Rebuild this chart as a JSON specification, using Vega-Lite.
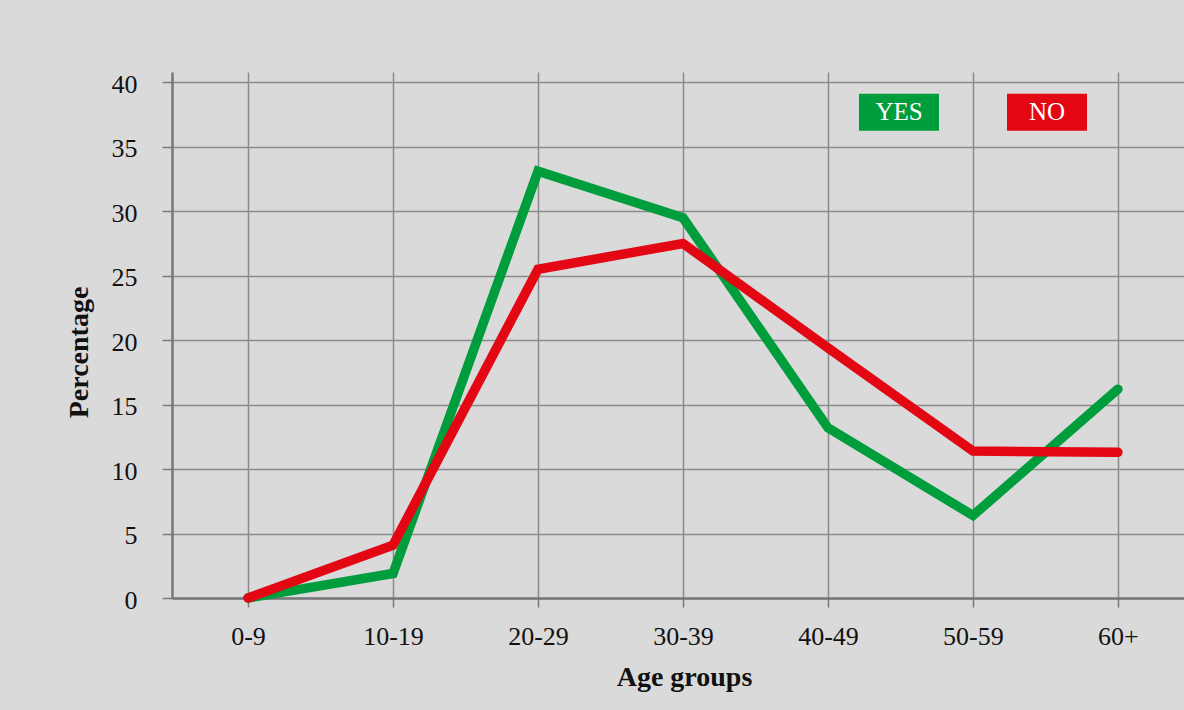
{
  "$schema": "https://vega.github.io/schema/vega-lite/v6.json",
  "width": 1012,
  "height": 526,
  "autosize": {"type": "none"},
  "padding": {"left": 172, "top": 72, "right": 0, "bottom": 112},
  "background": "#dadada",
  "config": {"view": {"stroke": null}, "font": "Liberation Serif"},
  "data": {
    "values": [
      {"age": "0-9", "answer": "YES", "pct": 0},
      {"age": "10-19", "answer": "YES", "pct": 1.9},
      {"age": "20-29", "answer": "YES", "pct": 33.1},
      {"age": "30-39", "answer": "YES", "pct": 29.5},
      {"age": "40-49", "answer": "YES", "pct": 13.2},
      {"age": "50-59", "answer": "YES", "pct": 6.4},
      {"age": "60+", "answer": "YES", "pct": 16.2},
      {"age": "0-9", "answer": "NO", "pct": 0},
      {"age": "10-19", "answer": "NO", "pct": 4.1},
      {"age": "20-29", "answer": "NO", "pct": 25.5},
      {"age": "30-39", "answer": "NO", "pct": 27.5},
      {"age": "40-49", "answer": "NO", "pct": 19.4},
      {"age": "50-59", "answer": "NO", "pct": 11.4},
      {"age": "60+", "answer": "NO", "pct": 11.3}
    ]
  },
  "mark": {"type": "line", "strokeWidth": 9.5, "strokeCap": "round", "strokeJoin": "miter"},
  "encoding": {
    "x": {
      "field": "age",
      "type": "ordinal",
      "sort": ["0-9", "10-19", "20-29", "30-39", "40-49", "50-59", "60+"],
      "scale": {"type": "point", "padding": 0.49, "align": 0.535},
      "axis": {
        "title": "Age groups",
        "titleFontSize": 28,
        "titleFontWeight": "bold",
        "titleColor": "#111111",
        "titleX": 512,
        "titleY": 87,
        "titleAlign": "center",
        "titleBaseline": "alphabetic",
        "labelFontSize": 26,
        "labelColor": "#111111",
        "labelAngle": 0,
        "labelBaseline": "alphabetic",
        "labelPadding": 37,
        "tickSize": 9,
        "tickColor": "#7a7a7a",
        "tickWidth": 1.5,
        "domainColor": "#777777",
        "domainWidth": 2.5,
        "grid": true,
        "gridColor": "#8a8a8a",
        "gridWidth": 1.5
      }
    },
    "y": {
      "field": "pct",
      "type": "quantitative",
      "scale": {"domain": [0, 40.8], "nice": false},
      "axis": {
        "values": [0, 5, 10, 15, 20, 25, 30, 35, 40],
        "title": "Percentage",
        "titleFontSize": 28,
        "titleFontWeight": "bold",
        "titleColor": "#111111",
        "titleAngle": -90,
        "titleX": -85,
        "titleY": 280,
        "titleAlign": "center",
        "titleBaseline": "alphabetic",
        "labelFontSize": 26,
        "labelColor": "#111111",
        "labelPadding": 25,
        "labelBaseline": "middle",
        "labelOffset": 2,
        "tickSize": 10,
        "tickColor": "#7a7a7a",
        "tickWidth": 1.5,
        "domainColor": "#777777",
        "domainWidth": 2.5,
        "grid": true,
        "gridColor": "#8a8a8a",
        "gridWidth": 1.5
      }
    },
    "color": {
      "field": "answer",
      "type": "nominal",
      "scale": {"domain": ["YES", "NO"], "range": ["#009d3d", "#e30613"]},
      "legend": {
        "title": null,
        "orient": "none",
        "legendX": 687,
        "legendY": 0,
        "direction": "horizontal",
        "columnPadding": 68,
        "padding": 0,
        "symbolType": "M-1,-0.4625H1V0.4625H-1Z",
        "symbolSize": 6400,
        "symbolStrokeWidth": 0,
        "labelColor": "white",
        "labelFontSize": 25,
        "labelFont": "Liberation Serif",
        "labelAlign": "center",
        "labelBaseline": "middle",
        "labelOffset": -40,
        "encode": {
          "symbols": {
            "update": {
              "fill": {"scale": "color", "field": "value"},
              "fillOpacity": {"value": 1},
              "strokeWidth": {"value": 0}
            }
          }
        }
      }
    }
  }
}
